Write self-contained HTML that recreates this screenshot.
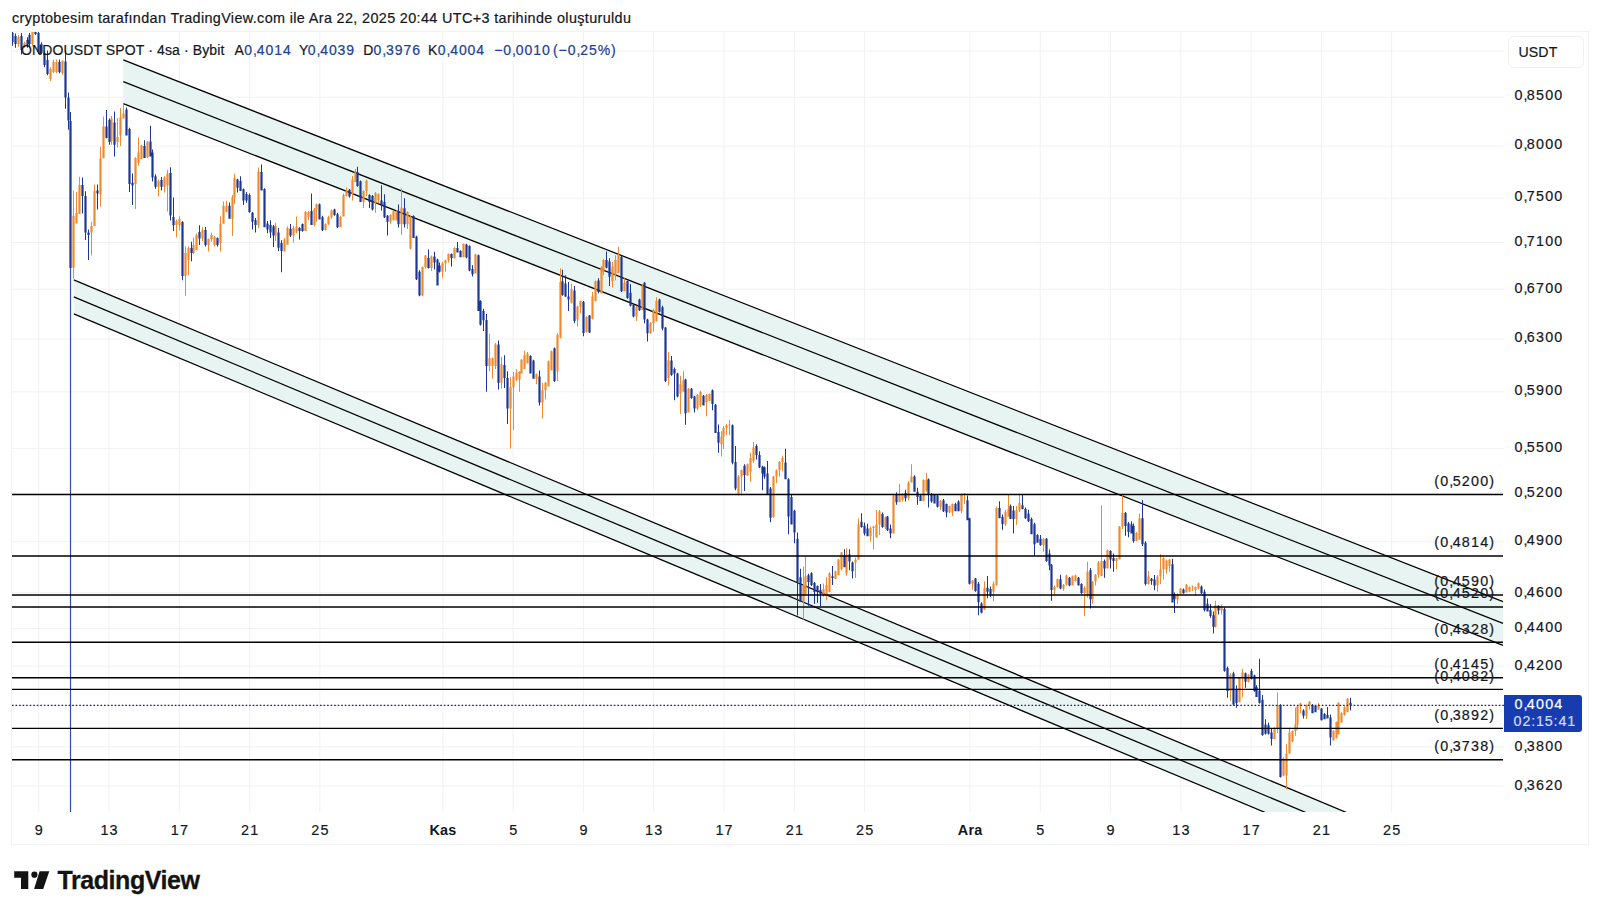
<!DOCTYPE html><html><head><meta charset="utf-8"><style>
*{margin:0;padding:0;box-sizing:border-box}
html,body{width:1600px;height:916px;background:#fff;overflow:hidden}
body{font-family:"Liberation Sans",Arial,sans-serif;color:#131722;position:relative}
.t{position:absolute;white-space:nowrap;line-height:1;-webkit-text-stroke:0.2px currentColor}
svg{position:absolute;left:0;top:0}
.cm{letter-spacing:-0.68px}
</style></head><body>

<svg width="1600" height="916" viewBox="0 0 1600 916">
<rect x="11.5" y="31.5" width="1577" height="813" fill="none" stroke="#f1f1f1" stroke-width="1"/>
<defs><clipPath id="pc"><rect x="12" y="31" width="1492" height="781"/></clipPath></defs>
<path d="M38.75 31V812 M109.03 31V812 M179.31 31V812 M249.60 31V812 M319.88 31V812 M442.87 31V812 M513.15 31V812 M583.44 31V812 M653.72 31V812 M724.00 31V812 M794.28 31V812 M864.56 31V812 M969.99 31V812 M1040.27 31V812 M1110.55 31V812 M1180.83 31V812 M1251.11 31V812 M1321.40 31V812 M1391.68 31V812 M12 97.20H1504 M12 146.12H1504 M12 198.21H1504 M12 242.44H1504 M12 289.23H1504 M12 338.91H1504 M12 391.85H1504 M12 448.50H1504 M12 493.77H1504 M12 541.72H1504 M12 592.71H1504 M12 628.58H1504 M12 666.12H1504 M12 746.89H1504 M12 786.05H1504 M12 51.07H1504 M12 705.49H1504" stroke="#f1f1f1" stroke-width="1" fill="none"/>
<g clip-path="url(#pc)"><polygon points="123.30,59.90 1503.00,601.57 1503.00,623.37 123.30,81.70" fill="#e8f4f2"/><polygon points="123.30,81.70 1503.00,623.37 1503.00,645.37 123.30,103.70" fill="#e8f4f2"/><line x1="123.3" y1="59.90" x2="1503" y2="601.57" stroke="#000" stroke-width="1.25"/><line x1="123.3" y1="81.70" x2="1503" y2="623.37" stroke="#000" stroke-width="1.25"/><line x1="123.3" y1="103.70" x2="1503" y2="645.37" stroke="#000" stroke-width="1.25"/><polygon points="73.80,279.90 1503.00,878.02 1503.00,895.02 73.80,296.90" fill="#e8f4f2"/><polygon points="73.80,296.90 1503.00,895.02 1503.00,912.02 73.80,313.90" fill="#e8f4f2"/><line x1="73.8" y1="279.90" x2="1503" y2="878.02" stroke="#000" stroke-width="1.25"/><line x1="73.8" y1="296.90" x2="1503" y2="895.02" stroke="#000" stroke-width="1.25"/><line x1="73.8" y1="313.90" x2="1503" y2="912.02" stroke="#000" stroke-width="1.25"/></g>
<g clip-path="url(#pc)"><rect x="69.90" y="268.0" width="1.2" height="544.0" fill="#2e4fae"/><path d="M18 34.9h1V46.7h-1ZM17.40 37.0h2.2V44.0h-2.2ZM24 41.8h1V47.7h-1ZM23.40 43.0h2.2V46.0h-2.2ZM32 31.9h1V46.2h-1ZM31.40 32.0h2.2V44.0h-2.2ZM50 67.3h1V81.1h-1ZM49.40 69.0h2.2V79.0h-2.2ZM53 59.5h1V73.2h-1ZM52.40 62.0h2.2V72.0h-2.2ZM56 59.5h1V73.2h-1ZM55.40 62.0h2.2V72.0h-2.2ZM62 60.3h1V74.7h-1ZM61.40 61.0h2.2V73.0h-2.2ZM73 190.5h1V278.4h-1ZM72.40 215.7h2.2V267.7h-2.2ZM76 192.0h1V223.4h-1ZM75.40 212.7h2.2V223.4h-2.2ZM79 176.7h1V214.0h-1ZM78.40 185.0h2.2V214.0h-2.2ZM91 221.8h1V255.5h-1ZM90.40 226.0h2.2V232.5h-2.2ZM94 184.4h1V226.0h-1ZM93.40 191.0h2.2V226.0h-2.2ZM100 146.8h1V206.5h-1ZM99.40 158.4h2.2V194.3h-2.2ZM103 116.6h1V158.4h-1ZM102.40 126.5h2.2V157.9h-2.2ZM111 116.0h1V144.8h-1ZM110.40 118.6h2.2V140.9h-2.2ZM117 118.0h1V147.4h-1ZM116.40 137.0h2.2V142.0h-2.2ZM120 108.1h1V146.0h-1ZM119.40 117.3h2.2V135.6h-2.2ZM123 103.5h1V118.6h-1ZM122.40 113.4h2.2V118.6h-2.2ZM135 157.2h1V209.0h-1ZM134.40 157.9h2.2V184.0h-2.2ZM138 137.6h1V165.7h-1ZM137.40 152.6h2.2V163.0h-2.2ZM141 144.8h1V159.2h-1ZM140.40 145.4h2.2V159.2h-2.2ZM147 140.9h1V158.0h-1ZM146.40 141.5h2.2V157.2h-2.2ZM158 179.5h1V196.5h-1ZM157.40 181.0h2.2V186.7h-2.2ZM164 176.2h1V192.6h-1ZM163.40 177.5h2.2V186.7h-2.2ZM167 169.7h1V211.6h-1ZM166.40 173.6h2.2V185.4h-2.2ZM176 219.6h1V237.6h-1ZM175.40 221.0h2.2V225.0h-2.2ZM179 216.3h1V230.2h-1ZM178.40 219.0h2.2V225.0h-2.2ZM185 246.6h1V295.7h-1ZM184.40 253.0h2.2V276.0h-2.2ZM188 246.6h1V275.3h-1ZM187.40 248.0h2.2V260.0h-2.2ZM193 237.6h1V254.0h-1ZM192.40 245.0h2.2V253.0h-2.2ZM196 233.5h1V250.0h-1ZM195.40 235.0h2.2V250.0h-2.2ZM202 227.0h1V240.9h-1ZM201.40 230.0h2.2V238.4h-2.2ZM208 238.4h1V251.5h-1ZM207.40 239.0h2.2V245.0h-2.2ZM211 232.7h1V241.7h-1ZM210.40 235.0h2.2V239.0h-2.2ZM214 236.0h1V246.6h-1ZM213.40 237.0h2.2V245.0h-2.2ZM220 216.3h1V251.5h-1ZM219.40 223.7h2.2V243.3h-2.2ZM223 201.6h1V223.7h-1ZM222.40 205.7h2.2V223.7h-2.2ZM226 200.8h1V212.2h-1ZM225.40 205.7h2.2V212.2h-2.2ZM232 195.0h1V236.0h-1ZM231.40 197.5h2.2V218.8h-2.2ZM234 173.7h1V204.0h-1ZM233.40 177.8h2.2V197.5h-2.2ZM258 167.6h1V228.0h-1ZM257.40 171.4h2.2V225.0h-2.2ZM275 222.6h1V241.0h-1ZM274.40 226.0h2.2V235.6h-2.2ZM284 237.9h1V251.6h-1ZM283.40 239.4h2.2V251.6h-2.2ZM287 226.4h1V244.8h-1ZM286.40 228.0h2.2V244.8h-2.2ZM293 225.7h1V242.5h-1ZM292.40 228.0h2.2V235.6h-2.2ZM296 216.5h1V233.3h-1ZM295.40 226.4h2.2V232.5h-2.2ZM305 211.1h1V231.0h-1ZM304.40 212.0h2.2V231.0h-2.2ZM308 211.1h1V220.3h-1ZM307.40 212.0h2.2V217.0h-2.2ZM314 208.0h1V226.4h-1ZM313.40 209.6h2.2V224.9h-2.2ZM316 203.5h1V221.8h-1ZM315.40 204.3h2.2V209.6h-2.2ZM325 223.4h1V230.2h-1ZM324.40 224.0h2.2V230.0h-2.2ZM328 215.7h1V224.9h-1ZM327.40 217.2h2.2V224.0h-2.2ZM331 209.6h1V218.8h-1ZM330.40 210.4h2.2V217.2h-2.2ZM340 215.7h1V227.2h-1ZM339.40 217.0h2.2V227.2h-2.2ZM343 193.6h1V216.5h-1ZM342.40 195.0h2.2V216.5h-2.2ZM346 187.4h1V196.6h-1ZM345.40 190.5h2.2V195.9h-2.2ZM352 176.0h1V200.4h-1ZM351.40 179.8h2.2V194.3h-2.2ZM355 169.1h1V182.0h-1ZM354.40 171.4h2.2V182.0h-2.2ZM363 190.5h1V208.0h-1ZM362.40 191.0h2.2V202.0h-2.2ZM366 179.8h1V195.9h-1ZM365.40 180.6h2.2V191.0h-2.2ZM375 192.0h1V212.7h-1ZM374.40 193.0h2.2V203.5h-2.2ZM378 193.6h1V203.5h-1ZM377.40 194.0h2.2V200.0h-2.2ZM390 214.2h1V224.3h-1ZM389.40 215.0h2.2V221.8h-2.2ZM393 210.4h1V220.5h-1ZM392.40 211.0h2.2V220.3h-2.2ZM396 210.6h1V220.5h-1ZM395.40 211.0h2.2V220.5h-2.2ZM401 188.4h1V235.0h-1ZM400.40 207.5h2.2V224.3h-2.2ZM407 211.3h1V228.9h-1ZM406.40 212.0h2.2V224.3h-2.2ZM410 216.0h1V249.5h-1ZM409.40 216.7h2.2V248.8h-2.2ZM422 266.4h1V296.2h-1ZM421.40 267.0h2.2V295.4h-2.2ZM425 254.9h1V268.6h-1ZM424.40 255.6h2.2V267.0h-2.2ZM431 255.6h1V271.0h-1ZM430.40 256.4h2.2V268.0h-2.2ZM442 261.8h1V277.8h-1ZM441.40 263.3h2.2V271.7h-2.2ZM445 259.5h1V271.7h-1ZM444.40 260.2h2.2V263.3h-2.2ZM448 253.4h1V262.5h-1ZM447.40 254.0h2.2V260.2h-2.2ZM454 247.2h1V258.7h-1ZM453.40 248.0h2.2V258.0h-2.2ZM463 243.4h1V257.2h-1ZM462.40 244.0h2.2V257.2h-2.2ZM475 253.7h1V273.6h-1ZM474.40 254.5h2.2V273.6h-2.2ZM489 333.8h1V371.2h-1ZM488.40 358.2h2.2V366.0h-2.2ZM492 357.6h1V378.8h-1ZM491.40 358.2h2.2V366.0h-2.2ZM495 342.9h1V369.0h-1ZM494.40 344.5h2.2V366.0h-2.2ZM501 356.7h1V388.8h-1ZM500.40 364.3h2.2V382.7h-2.2ZM510 377.3h1V448.4h-1ZM509.40 387.2h2.2V408.6h-2.2ZM513 372.0h1V430.0h-1ZM512.40 376.5h2.2V387.2h-2.2ZM516 368.9h1V381.1h-1ZM515.40 372.7h2.2V379.6h-2.2ZM519 371.2h1V391.8h-1ZM518.40 372.0h2.2V379.6h-2.2ZM521 359.0h1V373.5h-1ZM520.40 359.7h2.2V373.5h-2.2ZM524 350.6h1V369.0h-1ZM523.40 355.2h2.2V369.0h-2.2ZM527 352.0h1V363.6h-1ZM526.40 353.6h2.2V363.6h-2.2ZM536 373.5h1V384.2h-1ZM535.40 374.0h2.2V378.8h-2.2ZM542 382.7h1V418.6h-1ZM541.40 390.3h2.2V402.5h-2.2ZM545 381.9h1V399.5h-1ZM544.40 382.7h2.2V390.3h-2.2ZM548 360.5h1V386.5h-1ZM547.40 361.3h2.2V386.5h-2.2ZM551 350.6h1V370.4h-1ZM550.40 351.3h2.2V370.4h-2.2ZM557 333.2h1V381.0h-1ZM556.40 334.8h2.2V371.4h-2.2ZM560 268.3h1V338.6h-1ZM559.40 282.0h2.2V337.8h-2.2ZM571 283.6h1V303.4h-1ZM570.40 289.0h2.2V302.7h-2.2ZM577 305.7h1V326.4h-1ZM576.40 306.5h2.2V319.5h-2.2ZM580 300.4h1V313.4h-1ZM579.40 301.0h2.2V307.2h-2.2ZM586 316.4h1V332.5h-1ZM585.40 317.0h2.2V331.7h-2.2ZM592 292.0h1V319.5h-1ZM591.40 296.5h2.2V318.7h-2.2ZM595 280.5h1V301.5h-1ZM594.40 281.3h2.2V301.0h-2.2ZM601 266.0h1V293.5h-1ZM600.40 267.5h2.2V293.5h-2.2ZM603 259.0h1V275.2h-1ZM602.40 259.9h2.2V272.0h-2.2ZM612 262.0h1V287.4h-1ZM611.40 266.7h2.2V281.3h-2.2ZM615 255.3h1V280.5h-1ZM614.40 259.9h2.2V275.2h-2.2ZM618 246.9h1V272.9h-1ZM617.40 254.5h2.2V272.9h-2.2ZM624 278.2h1V291.2h-1ZM623.40 282.8h2.2V291.2h-2.2ZM636 305.7h1V321.0h-1ZM635.40 307.0h2.2V316.4h-2.2ZM642 284.3h1V310.3h-1ZM641.40 285.9h2.2V310.3h-2.2ZM650 321.8h1V334.0h-1ZM649.40 323.3h2.2V333.2h-2.2ZM653 308.8h1V331.7h-1ZM652.40 310.3h2.2V323.3h-2.2ZM656 297.3h1V321.8h-1ZM655.40 301.0h2.2V321.0h-2.2ZM668 352.0h1V385.7h-1ZM667.40 360.5h2.2V378.0h-2.2ZM680 375.8h1V414.0h-1ZM679.40 384.2h2.2V393.4h-2.2ZM683 371.2h1V391.8h-1ZM682.40 380.4h2.2V391.8h-2.2ZM688 388.0h1V412.5h-1ZM687.40 388.8h2.2V412.5h-2.2ZM697 394.1h1V410.2h-1ZM696.40 394.9h2.2V408.6h-2.2ZM700 391.0h1V407.0h-1ZM699.40 391.8h2.2V405.0h-2.2ZM706 394.1h1V416.3h-1ZM705.40 394.9h2.2V402.5h-2.2ZM709 393.4h1V401.0h-1ZM708.40 394.0h2.2V401.0h-2.2ZM721 431.3h1V456.5h-1ZM720.40 436.7h2.2V444.3h-2.2ZM723 426.0h1V449.0h-1ZM722.40 428.3h2.2V436.7h-2.2ZM726 423.7h1V435.0h-1ZM725.40 425.2h2.2V428.3h-2.2ZM729 419.9h1V435.2h-1ZM728.40 424.4h2.2V425.4h-2.2ZM738 474.9h1V495.5h-1ZM737.40 476.4h2.2V494.8h-2.2ZM741 469.5h1V495.5h-1ZM740.40 470.0h2.2V476.4h-2.2ZM747 463.4h1V475.7h-1ZM746.40 464.2h2.2V475.7h-2.2ZM750 452.7h1V481.8h-1ZM749.40 458.0h2.2V471.8h-2.2ZM753 442.0h1V462.7h-1ZM752.40 447.4h2.2V461.1h-2.2ZM773 475.7h1V517.7h-1ZM772.40 476.4h2.2V517.0h-2.2ZM776 469.5h1V483.3h-1ZM775.40 470.3h2.2V476.4h-2.2ZM779 461.1h1V476.4h-1ZM778.40 461.9h2.2V470.3h-2.2ZM782 455.7h1V471.4h-1ZM781.40 457.7h2.2V461.9h-2.2ZM803 566.4h1V619.4h-1ZM802.40 585.0h2.2V601.7h-2.2ZM805 556.0h1V594.8h-1ZM804.40 576.2h2.2V593.9h-2.2ZM823 583.5h1V596.8h-1ZM822.40 589.0h2.2V594.8h-2.2ZM826 577.2h1V600.2h-1ZM825.40 585.0h2.2V594.8h-2.2ZM829 572.2h1V591.9h-1ZM828.40 573.2h2.2V591.9h-2.2ZM835 570.8h1V579.1h-1ZM834.40 571.3h2.2V579.1h-2.2ZM838 559.0h1V575.2h-1ZM837.40 559.5h2.2V575.2h-2.2ZM841 552.1h1V570.3h-1ZM840.40 552.6h2.2V569.3h-2.2ZM846 548.2h1V575.7h-1ZM845.40 555.5h2.2V573.2h-2.2ZM855 557.5h1V578.1h-1ZM854.40 559.8h2.2V562.4h-2.2ZM858 518.5h1V559.8h-1ZM857.40 524.4h2.2V559.8h-2.2ZM870 526.4h1V541.5h-1ZM869.40 528.0h2.2V536.2h-2.2ZM873 525.7h1V549.3h-1ZM872.40 526.4h2.2V528.0h-2.2ZM876 510.0h1V537.5h-1ZM875.40 524.4h2.2V537.5h-2.2ZM879 510.0h1V534.9h-1ZM878.40 511.3h2.2V524.4h-2.2ZM885 516.6h1V529.0h-1ZM884.40 517.2h2.2V527.0h-2.2ZM893 494.3h1V533.6h-1ZM892.40 495.6h2.2V533.6h-2.2ZM899 483.8h1V502.2h-1ZM898.40 495.0h2.2V502.2h-2.2ZM902 493.0h1V501.5h-1ZM901.40 494.0h2.2V500.0h-2.2ZM908 481.2h1V500.2h-1ZM907.40 482.5h2.2V498.2h-2.2ZM911 464.2h1V482.5h-1ZM910.40 476.6h2.2V482.5h-2.2ZM923 479.2h1V501.5h-1ZM922.40 480.0h2.2V500.9h-2.2ZM926 472.7h1V491.7h-1ZM925.40 480.0h2.2V490.4h-2.2ZM940 500.2h1V510.0h-1ZM939.40 500.9h2.2V506.7h-2.2ZM949 505.4h1V513.3h-1ZM948.40 506.0h2.2V512.6h-2.2ZM952 503.5h1V516.0h-1ZM951.40 504.0h2.2V512.6h-2.2ZM961 493.6h1V513.3h-1ZM960.40 494.3h2.2V511.3h-2.2ZM964 493.0h1V504.1h-1ZM963.40 493.5h2.2V494.5h-2.2ZM972 580.0h1V589.7h-1ZM971.40 580.6h2.2V583.8h-2.2ZM984 581.2h1V610.0h-1ZM983.40 587.8h2.2V609.4h-2.2ZM993 581.2h1V601.5h-1ZM992.40 583.8h2.2V591.7h-2.2ZM996 506.6h1V585.8h-1ZM995.40 507.9h2.2V585.2h-2.2ZM1005 509.8h1V525.9h-1ZM1004.40 512.0h2.2V524.3h-2.2ZM1008 494.5h1V516.7h-1ZM1007.40 509.0h2.2V516.7h-2.2ZM1016 505.9h1V525.0h-1ZM1015.40 510.6h2.2V519.0h-2.2ZM1019 493.8h1V512.0h-1ZM1018.40 503.0h2.2V510.6h-2.2ZM1043 538.0h1V551.8h-1ZM1042.40 538.8h2.2V545.0h-2.2ZM1054 585.5h1V593.9h-1ZM1053.40 587.0h2.2V590.0h-2.2ZM1057 578.6h1V587.7h-1ZM1056.40 579.3h2.2V587.0h-2.2ZM1063 584.0h1V590.8h-1ZM1062.40 584.7h2.2V588.5h-2.2ZM1066 574.8h1V585.5h-1ZM1065.40 575.5h2.2V584.7h-2.2ZM1072 575.5h1V585.5h-1ZM1071.40 576.3h2.2V585.5h-2.2ZM1075 574.8h1V581.6h-1ZM1074.40 575.5h2.2V581.0h-2.2ZM1084 586.2h1V616.0h-1ZM1083.40 588.0h2.2V593.0h-2.2ZM1087 561.8h1V597.7h-1ZM1086.40 571.7h2.2V596.2h-2.2ZM1092 580.9h1V603.8h-1ZM1091.40 581.6h2.2V599.2h-2.2ZM1095 574.0h1V585.5h-1ZM1094.40 574.8h2.2V581.6h-2.2ZM1098 561.0h1V577.8h-1ZM1097.40 562.5h2.2V574.8h-2.2ZM1101 505.2h1V576.3h-1ZM1100.40 561.0h2.2V576.3h-2.2ZM1107 549.5h1V568.6h-1ZM1106.40 550.3h2.2V568.6h-2.2ZM1116 558.0h1V569.4h-1ZM1115.40 558.5h2.2V561.0h-2.2ZM1119 525.9h1V559.5h-1ZM1118.40 526.6h2.2V559.5h-2.2ZM1122 493.8h1V529.0h-1ZM1121.40 512.9h2.2V526.6h-2.2ZM1136 532.0h1V541.3h-1ZM1135.40 532.9h2.2V541.1h-2.2ZM1139 513.8h1V539.7h-1ZM1138.40 518.3h2.2V539.7h-2.2ZM1148 571.0h1V584.8h-1ZM1147.40 576.4h2.2V584.0h-2.2ZM1157 574.9h1V591.7h-1ZM1156.40 576.4h2.2V585.6h-2.2ZM1160 554.3h1V584.0h-1ZM1159.40 569.5h2.2V576.4h-2.2ZM1163 557.3h1V579.5h-1ZM1162.40 558.0h2.2V569.5h-2.2ZM1166 559.6h1V574.1h-1ZM1165.40 560.4h2.2V569.5h-2.2ZM1169 558.8h1V571.8h-1ZM1168.40 559.6h2.2V566.0h-2.2ZM1177 593.2h1V604.0h-1ZM1176.40 594.0h2.2V599.3h-2.2ZM1180 587.9h1V594.5h-1ZM1179.40 588.6h2.2V594.0h-2.2ZM1186 584.0h1V592.5h-1ZM1185.40 584.8h2.2V592.5h-2.2ZM1189 586.4h1V591.7h-1ZM1188.40 587.1h2.2V591.7h-2.2ZM1192 585.6h1V591.0h-1ZM1191.40 586.2h2.2V587.2h-2.2ZM1195 586.4h1V595.5h-1ZM1194.40 587.0h2.2V590.0h-2.2ZM1198 582.5h1V589.4h-1ZM1197.40 583.3h2.2V588.6h-2.2ZM1215 600.7h1V627.4h-1ZM1214.40 605.3h2.2V626.7h-2.2ZM1221 604.5h1V614.5h-1ZM1220.40 606.8h2.2V610.5h-2.2ZM1230 673.3h1V700.8h-1ZM1229.40 675.0h2.2V690.9h-2.2ZM1239 677.1h1V702.3h-1ZM1238.40 677.9h2.2V702.3h-2.2ZM1242 668.7h1V697.0h-1ZM1241.40 672.5h2.2V677.9h-2.2ZM1248 674.0h1V682.5h-1ZM1247.40 674.8h2.2V681.7h-2.2ZM1274 727.2h1V739.6h-1ZM1273.40 729.0h2.2V739.0h-2.2ZM1277 692.4h1V733.0h-1ZM1276.40 704.9h2.2V729.0h-2.2ZM1283 757.3h1V776.3h-1ZM1282.40 758.6h2.2V775.6h-2.2ZM1286 744.2h1V789.4h-1ZM1285.40 753.4h2.2V775.6h-2.2ZM1289 727.8h1V754.0h-1ZM1288.40 732.4h2.2V753.4h-2.2ZM1292 730.4h1V742.2h-1ZM1291.40 731.0h2.2V741.6h-2.2ZM1295 707.5h1V735.7h-1ZM1294.40 724.5h2.2V731.0h-2.2ZM1297 705.5h1V729.8h-1ZM1296.40 706.2h2.2V724.5h-2.2ZM1300 702.7h1V713.2h-1ZM1299.40 703.6h2.2V706.2h-2.2ZM1306 704.5h1V718.9h-1ZM1305.40 705.0h2.2V715.8h-2.2ZM1309 701.0h1V709.7h-1ZM1308.40 701.8h2.2V705.0h-2.2ZM1318 703.1h1V709.7h-1ZM1317.40 705.3h2.2V709.7h-2.2ZM1333 730.2h1V740.7h-1ZM1332.40 730.7h2.2V740.3h-2.2ZM1336 721.5h1V738.5h-1ZM1335.40 722.0h2.2V738.0h-2.2ZM1338 702.3h1V734.6h-1ZM1337.40 702.7h2.2V734.1h-2.2ZM1341 712.3h1V722.8h-1ZM1340.40 713.2h2.2V722.8h-2.2ZM1344 706.2h1V715.8h-1ZM1343.40 707.1h2.2V715.0h-2.2ZM1347 697.9h1V712.3h-1ZM1346.40 698.8h2.2V712.3h-2.2Z" fill="#ef8b2e"/><path d="M12 31.9h1V45.7h-1ZM11.40 33.0h2.2V42.0h-2.2ZM15 33.4h1V47.7h-1ZM14.40 36.0h2.2V44.0h-2.2ZM21 32.9h1V54.5h-1ZM20.40 36.0h2.2V50.0h-2.2ZM27 37.3h1V47.7h-1ZM26.40 40.0h2.2V46.0h-2.2ZM29 32.9h1V46.2h-1ZM28.40 35.0h2.2V44.0h-2.2ZM35 31.9h1V34.9h-1ZM34.40 32.0h2.2V34.0h-2.2ZM38 31.9h1V54.1h-1ZM37.40 33.0h2.2V52.0h-2.2ZM41 42.3h1V54.1h-1ZM40.40 44.0h2.2V53.0h-2.2ZM44 51.6h1V67.3h-1ZM43.40 53.0h2.2V65.0h-2.2ZM47 50.6h1V75.2h-1ZM46.40 60.0h2.2V74.0h-2.2ZM59 59.5h1V73.2h-1ZM58.40 62.0h2.2V72.0h-2.2ZM65 49.8h1V108.8h-1ZM64.40 61.6h2.2V97.6h-2.2ZM68 92.4h1V129.7h-1ZM67.40 97.6h2.2V120.6h-2.2ZM70 112.0h1V268.0h-1ZM69.40 121.0h2.2V268.0h-2.2ZM82 177.5h1V213.4h-1ZM81.40 185.0h2.2V196.0h-2.2ZM85 191.3h1V240.0h-1ZM84.40 196.0h2.2V232.5h-2.2ZM88 229.5h1V260.0h-1ZM87.40 232.5h2.2V235.0h-2.2ZM97 184.4h1V209.6h-1ZM96.40 190.5h2.2V193.6h-2.2ZM106 110.0h1V138.3h-1ZM105.40 126.5h2.2V138.0h-2.2ZM109 118.6h1V144.8h-1ZM108.40 120.0h2.2V142.0h-2.2ZM114 111.4h1V156.6h-1ZM113.40 122.5h2.2V144.8h-2.2ZM126 107.4h1V135.6h-1ZM125.40 109.4h2.2V135.6h-2.2ZM129 127.8h1V192.0h-1ZM128.40 129.0h2.2V184.0h-2.2ZM132 173.6h1V205.0h-1ZM131.40 182.8h2.2V185.4h-2.2ZM144 140.2h1V158.0h-1ZM143.40 146.0h2.2V158.0h-2.2ZM150 125.8h1V156.6h-1ZM149.40 141.5h2.2V156.6h-2.2ZM152 149.4h1V181.5h-1ZM151.40 152.6h2.2V177.5h-2.2ZM155 174.3h1V188.7h-1ZM154.40 176.2h2.2V186.7h-2.2ZM161 176.9h1V190.6h-1ZM160.40 180.0h2.2V186.7h-2.2ZM170 167.2h1V220.4h-1ZM169.40 173.0h2.2V215.5h-2.2ZM173 197.5h1V231.0h-1ZM172.40 217.0h2.2V225.3h-2.2ZM182 221.2h1V280.2h-1ZM181.40 222.0h2.2V276.0h-2.2ZM191 241.7h1V261.3h-1ZM190.40 248.0h2.2V253.0h-2.2ZM199 225.3h1V245.0h-1ZM198.40 232.0h2.2V238.4h-2.2ZM205 227.0h1V246.6h-1ZM204.40 230.0h2.2V245.0h-2.2ZM217 237.6h1V246.6h-1ZM216.40 238.0h2.2V245.0h-2.2ZM229 202.4h1V218.8h-1ZM228.40 205.7h2.2V218.8h-2.2ZM237 178.7h1V192.6h-1ZM236.40 179.5h2.2V187.7h-2.2ZM240 176.2h1V191.0h-1ZM239.40 181.0h2.2V191.0h-2.2ZM243 188.5h1V205.0h-1ZM242.40 189.3h2.2V200.4h-2.2ZM246 192.0h1V202.7h-1ZM245.40 194.0h2.2V200.4h-2.2ZM249 193.6h1V212.7h-1ZM248.40 195.0h2.2V212.0h-2.2ZM252 212.0h1V229.5h-1ZM251.40 212.7h2.2V221.8h-2.2ZM255 218.0h1V232.5h-1ZM254.40 220.3h2.2V225.0h-2.2ZM261 164.5h1V190.5h-1ZM260.40 172.0h2.2V190.5h-2.2ZM264 188.2h1V227.2h-1ZM263.40 189.0h2.2V227.2h-2.2ZM267 221.0h1V233.3h-1ZM266.40 223.4h2.2V229.5h-2.2ZM270 220.3h1V237.9h-1ZM269.40 225.0h2.2V232.5h-2.2ZM273 224.9h1V247.0h-1ZM272.40 226.4h2.2V235.6h-2.2ZM278 228.0h1V250.9h-1ZM277.40 232.5h2.2V247.8h-2.2ZM281 240.2h1V272.3h-1ZM280.40 243.0h2.2V250.9h-2.2ZM290 224.0h1V237.1h-1ZM289.40 228.7h2.2V235.6h-2.2ZM299 227.2h1V239.4h-1ZM298.40 228.0h2.2V231.0h-2.2ZM302 223.4h1V231.8h-1ZM301.40 224.0h2.2V231.0h-2.2ZM311 193.6h1V224.9h-1ZM310.40 211.0h2.2V224.9h-2.2ZM319 203.5h1V219.5h-1ZM318.40 204.3h2.2V219.5h-2.2ZM322 215.7h1V231.0h-1ZM321.40 217.2h2.2V230.2h-2.2ZM334 208.8h1V215.7h-1ZM333.40 209.6h2.2V215.0h-2.2ZM337 212.7h1V228.0h-1ZM336.40 214.2h2.2V227.2h-2.2ZM349 189.0h1V197.4h-1ZM348.40 189.7h2.2V196.6h-2.2ZM357 166.8h1V186.7h-1ZM356.40 172.0h2.2V186.0h-2.2ZM360 180.6h1V202.0h-1ZM359.40 181.3h2.2V202.0h-2.2ZM369 194.3h1V208.0h-1ZM368.40 195.0h2.2V202.0h-2.2ZM372 195.0h1V210.4h-1ZM371.40 195.9h2.2V209.6h-2.2ZM381 185.2h1V210.4h-1ZM380.40 200.4h2.2V205.0h-2.2ZM384 194.3h1V218.0h-1ZM383.40 202.0h2.2V217.2h-2.2ZM387 215.0h1V235.6h-1ZM386.40 215.7h2.2V221.8h-2.2ZM398 204.5h1V227.4h-1ZM397.40 211.3h2.2V224.3h-2.2ZM404 198.3h1V227.4h-1ZM403.40 208.3h2.2V224.3h-2.2ZM413 215.2h1V238.0h-1ZM412.40 216.0h2.2V238.0h-2.2ZM416 235.8h1V280.1h-1ZM415.40 236.5h2.2V279.3h-2.2ZM419 270.2h1V296.2h-1ZM418.40 271.7h2.2V295.4h-2.2ZM428 249.5h1V268.6h-1ZM427.40 258.0h2.2V268.0h-2.2ZM434 251.8h1V269.4h-1ZM433.40 256.4h2.2V262.5h-2.2ZM437 258.7h1V285.5h-1ZM436.40 259.5h2.2V285.5h-2.2ZM439 262.5h1V272.5h-1ZM438.40 265.6h2.2V271.7h-2.2ZM451 253.4h1V266.4h-1ZM450.40 254.0h2.2V258.0h-2.2ZM457 241.9h1V252.6h-1ZM456.40 248.0h2.2V252.6h-2.2ZM460 250.3h1V257.2h-1ZM459.40 251.0h2.2V257.2h-2.2ZM466 243.8h1V258.3h-1ZM465.40 244.5h2.2V257.5h-2.2ZM469 245.3h1V271.3h-1ZM468.40 246.0h2.2V270.5h-2.2ZM472 265.2h1V276.6h-1ZM471.40 269.0h2.2V274.3h-2.2ZM478 254.5h1V311.0h-1ZM477.40 255.2h2.2V311.0h-2.2ZM480 300.3h1V325.5h-1ZM479.40 301.0h2.2V324.8h-2.2ZM483 308.7h1V330.9h-1ZM482.40 311.0h2.2V320.2h-2.2ZM486 314.0h1V391.8h-1ZM485.40 320.0h2.2V365.9h-2.2ZM498 340.6h1V389.5h-1ZM497.40 344.5h2.2V382.7h-2.2ZM504 355.2h1V388.0h-1ZM503.40 365.0h2.2V378.0h-2.2ZM507 371.2h1V424.0h-1ZM506.40 378.0h2.2V408.6h-2.2ZM530 355.2h1V373.5h-1ZM529.40 356.0h2.2V373.5h-2.2ZM533 359.7h1V378.8h-1ZM532.40 360.5h2.2V378.8h-2.2ZM539 370.4h1V405.6h-1ZM538.40 376.5h2.2V402.5h-2.2ZM554 347.5h1V381.9h-1ZM553.40 348.3h2.2V381.0h-2.2ZM562 269.8h1V295.8h-1ZM561.40 281.3h2.2V295.0h-2.2ZM565 275.2h1V297.0h-1ZM564.40 283.6h2.2V296.5h-2.2ZM568 282.0h1V311.0h-1ZM567.40 296.5h2.2V299.6h-2.2ZM574 285.9h1V323.3h-1ZM573.40 290.4h2.2V321.0h-2.2ZM583 301.0h1V336.3h-1ZM582.40 302.0h2.2V333.0h-2.2ZM589 314.9h1V333.0h-1ZM588.40 315.6h2.2V332.5h-2.2ZM598 278.2h1V293.5h-1ZM597.40 280.5h2.2V292.0h-2.2ZM606 251.5h1V268.3h-1ZM605.40 259.9h2.2V267.5h-2.2ZM609 258.3h1V285.9h-1ZM608.40 261.4h2.2V276.7h-2.2ZM621 256.0h1V292.0h-1ZM620.40 256.8h2.2V291.2h-2.2ZM627 280.5h1V298.8h-1ZM626.40 281.3h2.2V298.0h-2.2ZM630 284.3h1V306.5h-1ZM629.40 292.7h2.2V305.7h-2.2ZM633 304.2h1V317.2h-1ZM632.40 305.0h2.2V316.4h-2.2ZM639 298.8h1V311.0h-1ZM638.40 299.6h2.2V310.3h-2.2ZM644 282.0h1V323.3h-1ZM643.40 282.8h2.2V319.5h-2.2ZM647 318.7h1V341.6h-1ZM646.40 319.5h2.2V333.2h-2.2ZM659 298.8h1V312.6h-1ZM658.40 299.6h2.2V311.8h-2.2ZM662 305.7h1V330.2h-1ZM661.40 307.2h2.2V328.6h-2.2ZM665 327.0h1V381.9h-1ZM664.40 327.6h2.2V381.1h-2.2ZM671 356.0h1V375.8h-1ZM670.40 360.5h2.2V375.0h-2.2ZM674 367.4h1V400.2h-1ZM673.40 369.0h2.2V373.5h-2.2ZM677 372.7h1V397.2h-1ZM676.40 373.5h2.2V396.4h-2.2ZM685 378.8h1V424.7h-1ZM684.40 379.6h2.2V413.2h-2.2ZM691 388.0h1V398.7h-1ZM690.40 388.8h2.2V398.0h-2.2ZM694 395.7h1V412.5h-1ZM693.40 396.4h2.2V408.6h-2.2ZM703 394.9h1V405.6h-1ZM702.40 395.7h2.2V405.6h-2.2ZM712 389.5h1V410.2h-1ZM711.40 390.3h2.2V404.0h-2.2ZM715 404.0h1V433.1h-1ZM714.40 404.8h2.2V433.1h-2.2ZM718 424.5h1V452.7h-1ZM717.40 432.0h2.2V442.8h-2.2ZM732 424.5h1V464.2h-1ZM731.40 425.2h2.2V462.7h-2.2ZM735 445.9h1V490.2h-1ZM734.40 461.9h2.2V488.6h-2.2ZM744 464.2h1V491.0h-1ZM743.40 465.7h2.2V474.9h-2.2ZM756 444.3h1V459.6h-1ZM755.40 445.9h2.2V455.0h-2.2ZM759 451.2h1V468.0h-1ZM758.40 455.0h2.2V467.2h-2.2ZM762 465.7h1V490.2h-1ZM761.40 466.5h2.2V473.4h-2.2ZM764 466.5h1V478.7h-1ZM763.40 467.2h2.2V476.4h-2.2ZM767 461.1h1V494.8h-1ZM766.40 473.4h2.2V494.8h-2.2ZM770 487.1h1V522.3h-1ZM769.40 488.6h2.2V517.7h-2.2ZM785 448.8h1V479.3h-1ZM784.40 462.6h2.2V479.3h-2.2ZM788 478.3h1V534.3h-1ZM787.40 479.3h2.2V516.6h-2.2ZM791 495.0h1V524.5h-1ZM790.40 497.0h2.2V524.5h-2.2ZM794 509.8h1V543.3h-1ZM793.40 510.7h2.2V532.4h-2.2ZM797 532.4h1V615.5h-1ZM796.40 538.8h2.2V582.0h-2.2ZM800 568.8h1V601.7h-1ZM799.40 577.2h2.2V601.7h-2.2ZM808 573.7h1V605.7h-1ZM807.40 575.2h2.2V582.0h-2.2ZM811 572.2h1V586.0h-1ZM810.40 573.2h2.2V585.0h-2.2ZM814 582.0h1V603.7h-1ZM813.40 583.0h2.2V591.9h-2.2ZM817 585.5h1V602.7h-1ZM816.40 586.0h2.2V592.0h-2.2ZM820 584.0h1V606.1h-1ZM819.40 590.0h2.2V593.9h-2.2ZM832 565.9h1V585.0h-1ZM831.40 576.2h2.2V578.1h-2.2ZM844 549.2h1V567.3h-1ZM843.40 555.5h2.2V567.3h-2.2ZM849 549.2h1V570.3h-1ZM848.40 554.6h2.2V561.4h-2.2ZM852 561.4h1V578.6h-1ZM851.40 562.4h2.2V571.3h-2.2ZM861 513.3h1V527.7h-1ZM860.40 521.8h2.2V527.0h-2.2ZM864 522.5h1V535.6h-1ZM863.40 525.7h2.2V533.6h-2.2ZM867 523.8h1V536.2h-1ZM866.40 528.4h2.2V536.2h-2.2ZM882 512.6h1V527.7h-1ZM881.40 514.0h2.2V527.0h-2.2ZM887 516.0h1V531.0h-1ZM886.40 516.6h2.2V530.3h-2.2ZM890 524.4h1V538.2h-1ZM889.40 528.4h2.2V533.6h-2.2ZM896 492.3h1V504.8h-1ZM895.40 494.3h2.2V502.2h-2.2ZM905 489.7h1V501.5h-1ZM904.40 493.0h2.2V498.2h-2.2ZM914 475.3h1V491.7h-1ZM913.40 476.6h2.2V491.7h-2.2ZM917 487.8h1V504.8h-1ZM916.40 491.7h2.2V497.0h-2.2ZM920 494.3h1V500.9h-1ZM919.40 495.6h2.2V500.9h-2.2ZM928 478.6h1V507.4h-1ZM927.40 479.2h2.2V494.3h-2.2ZM931 493.0h1V502.8h-1ZM930.40 494.3h2.2V501.5h-2.2ZM934 494.3h1V503.5h-1ZM933.40 495.0h2.2V503.5h-2.2ZM937 495.0h1V507.4h-1ZM936.40 495.6h2.2V506.7h-2.2ZM943 498.9h1V512.0h-1ZM942.40 500.2h2.2V511.3h-2.2ZM946 503.5h1V517.2h-1ZM945.40 504.0h2.2V512.6h-2.2ZM955 502.8h1V511.3h-1ZM954.40 504.0h2.2V511.3h-2.2ZM958 500.2h1V511.3h-1ZM957.40 501.5h2.2V511.3h-2.2ZM967 495.6h1V520.3h-1ZM966.40 500.2h2.2V520.3h-2.2ZM969 517.7h1V584.5h-1ZM968.40 518.3h2.2V583.8h-2.2ZM975 578.0h1V591.7h-1ZM974.40 578.6h2.2V591.0h-2.2ZM978 581.9h1V615.3h-1ZM977.40 583.8h2.2V602.2h-2.2ZM981 602.2h1V613.3h-1ZM980.40 603.5h2.2V612.7h-2.2ZM987 576.0h1V598.3h-1ZM986.40 587.8h2.2V591.7h-2.2ZM990 586.5h1V597.0h-1ZM989.40 589.0h2.2V594.3h-2.2ZM999 501.3h1V518.3h-1ZM998.40 507.9h2.2V518.2h-2.2ZM1002 514.4h1V529.7h-1ZM1001.40 516.7h2.2V524.3h-2.2ZM1010 504.5h1V519.0h-1ZM1009.40 506.0h2.2V519.0h-2.2ZM1013 505.9h1V533.5h-1ZM1012.40 510.6h2.2V519.0h-2.2ZM1022 494.5h1V509.2h-1ZM1021.40 505.2h2.2V509.0h-2.2ZM1025 507.5h1V519.0h-1ZM1024.40 509.0h2.2V518.2h-2.2ZM1028 509.8h1V522.0h-1ZM1027.40 513.6h2.2V521.3h-2.2ZM1031 517.4h1V534.3h-1ZM1030.40 519.0h2.2V534.3h-2.2ZM1034 522.8h1V555.7h-1ZM1033.40 524.3h2.2V544.2h-2.2ZM1037 534.3h1V542.7h-1ZM1036.40 535.0h2.2V542.7h-2.2ZM1040 535.0h1V545.7h-1ZM1039.40 538.8h2.2V545.0h-2.2ZM1046 538.0h1V561.8h-1ZM1045.40 538.8h2.2V561.0h-2.2ZM1049 549.5h1V570.2h-1ZM1048.40 553.4h2.2V565.6h-2.2ZM1051 564.0h1V600.7h-1ZM1050.40 564.8h2.2V590.0h-2.2ZM1060 574.8h1V589.3h-1ZM1059.40 579.3h2.2V588.5h-2.2ZM1069 577.0h1V586.2h-1ZM1068.40 577.8h2.2V585.5h-2.2ZM1078 577.0h1V585.5h-1ZM1077.40 577.8h2.2V585.5h-2.2ZM1081 583.2h1V593.9h-1ZM1080.40 584.0h2.2V593.0h-2.2ZM1090 567.9h1V608.4h-1ZM1089.40 570.2h2.2V599.2h-2.2ZM1104 559.5h1V577.8h-1ZM1103.40 561.0h2.2V568.6h-2.2ZM1110 550.3h1V568.6h-1ZM1109.40 551.0h2.2V559.5h-2.2ZM1113 553.4h1V571.7h-1ZM1112.40 558.0h2.2V561.0h-2.2ZM1125 512.0h1V535.8h-1ZM1124.40 512.9h2.2V525.9h-2.2ZM1128 522.0h1V537.3h-1ZM1127.40 523.6h2.2V532.0h-2.2ZM1131 521.3h1V533.5h-1ZM1130.40 524.3h2.2V533.5h-2.2ZM1133 523.6h1V542.7h-1ZM1132.40 525.9h2.2V541.1h-2.2ZM1142 499.9h1V545.9h-1ZM1141.40 518.3h2.2V544.3h-2.2ZM1145 541.3h1V585.6h-1ZM1144.40 542.8h2.2V584.0h-2.2ZM1151 578.0h1V584.8h-1ZM1150.40 578.7h2.2V581.0h-2.2ZM1154 574.9h1V590.2h-1ZM1153.40 579.5h2.2V585.6h-2.2ZM1172 558.8h1V602.4h-1ZM1171.40 564.2h2.2V602.4h-2.2ZM1174 592.5h1V613.1h-1ZM1173.40 594.0h2.2V599.3h-2.2ZM1183 588.6h1V593.8h-1ZM1182.40 589.4h2.2V593.2h-2.2ZM1201 585.6h1V594.0h-1ZM1200.40 586.4h2.2V593.2h-2.2ZM1204 589.4h1V611.6h-1ZM1203.40 591.7h2.2V610.0h-2.2ZM1207 598.6h1V611.4h-1ZM1206.40 603.8h2.2V611.4h-2.2ZM1210 604.0h1V617.7h-1ZM1209.40 609.9h2.2V616.0h-2.2ZM1213 611.4h1V633.6h-1ZM1212.40 615.2h2.2V626.7h-2.2ZM1218 605.3h1V614.5h-1ZM1217.40 605.8h2.2V610.5h-2.2ZM1224 607.6h1V671.8h-1ZM1223.40 609.1h2.2V671.0h-2.2ZM1227 666.4h1V697.7h-1ZM1226.40 668.0h2.2V690.9h-2.2ZM1233 671.8h1V705.4h-1ZM1232.40 673.3h2.2V704.6h-2.2ZM1236 685.5h1V707.7h-1ZM1235.40 689.3h2.2V703.0h-2.2ZM1245 672.5h1V687.8h-1ZM1244.40 673.3h2.2V681.7h-2.2ZM1251 668.7h1V679.4h-1ZM1250.40 671.0h2.2V678.6h-2.2ZM1254 674.8h1V691.7h-1ZM1253.40 675.6h2.2V690.9h-2.2ZM1256 685.2h1V697.0h-1ZM1255.40 687.2h2.2V697.0h-2.2ZM1259 658.8h1V703.6h-1ZM1258.40 690.5h2.2V703.0h-2.2ZM1262 695.0h1V735.7h-1ZM1261.40 699.7h2.2V735.0h-2.2ZM1265 719.3h1V734.4h-1ZM1264.40 724.5h2.2V733.7h-2.2ZM1268 722.6h1V734.4h-1ZM1267.40 725.2h2.2V733.7h-2.2ZM1271 729.0h1V745.5h-1ZM1270.40 732.4h2.2V739.0h-2.2ZM1280 704.2h1V777.6h-1ZM1279.40 705.0h2.2V777.0h-2.2ZM1303 709.3h1V718.4h-1ZM1302.40 710.6h2.2V715.8h-2.2ZM1312 704.0h1V713.2h-1ZM1311.40 704.9h2.2V713.2h-2.2ZM1315 704.9h1V712.3h-1ZM1314.40 705.8h2.2V712.3h-2.2ZM1321 708.0h1V720.6h-1ZM1320.40 708.4h2.2V720.2h-2.2ZM1324 713.2h1V719.3h-1ZM1323.40 714.0h2.2V719.3h-2.2ZM1327 707.1h1V718.4h-1ZM1326.40 715.0h2.2V718.4h-2.2ZM1330 714.5h1V745.5h-1ZM1329.40 717.6h2.2V737.6h-2.2ZM1350 697.7h1V710.4h-1ZM1349.40 702.7h2.2V705.3h-2.2Z" fill="#1a3696"/></g>
<line x1="12" y1="494.45" x2="1503" y2="494.45" stroke="#000" stroke-width="1.4"/><line x1="12" y1="556.0" x2="1503" y2="556.0" stroke="#000" stroke-width="1.4"/><line x1="12" y1="595.0" x2="1503" y2="595.0" stroke="#000" stroke-width="1.4"/><line x1="12" y1="607.0" x2="1503" y2="607.0" stroke="#000" stroke-width="1.4"/><line x1="12" y1="642.2" x2="1503" y2="642.2" stroke="#000" stroke-width="1.4"/><line x1="12" y1="677.7" x2="1503" y2="677.7" stroke="#000" stroke-width="1.4"/><line x1="12" y1="689.4" x2="1503" y2="689.4" stroke="#000" stroke-width="1.4"/><line x1="12" y1="728.4" x2="1503" y2="728.4" stroke="#000" stroke-width="1.4"/><line x1="12" y1="759.8" x2="1503" y2="759.8" stroke="#000" stroke-width="1.4"/><line x1="12" y1="705.3" x2="1504" y2="705.3" stroke="#1c2466" stroke-width="1.3" stroke-dasharray="1.6 1.94"/>
</svg>
<div class="t" style="left:12px;top:10.6px;font-size:14.4px;letter-spacing:0.36px">cryptobesim tarafından TradingView.com ile Ara 22, 2025 20:44 UTC+3 tarihinde oluşturuldu</div>
<div class="t" style="left:21px;top:42.5px;font-size:14px;letter-spacing:0.12px">ONDOUSDT SPOT · 4sa · Bybit</div>
<div class="t" style="left:234.4px;top:42.5px;font-size:14px">A</div>
<div class="t" style="left:244.3px;top:42.5px;font-size:14px;letter-spacing:0.95px;color:#223f96">0<span style="letter-spacing:-0.2px">,</span>4014</div>
<div class="t" style="left:299.0px;top:42.5px;font-size:14px">Y</div>
<div class="t" style="left:307.7px;top:42.5px;font-size:14px;letter-spacing:0.95px;color:#223f96">0<span style="letter-spacing:-0.2px">,</span>4039</div>
<div class="t" style="left:363.20000000000005px;top:42.5px;font-size:14px">D</div>
<div class="t" style="left:373.6px;top:42.5px;font-size:14px;letter-spacing:0.95px;color:#223f96">0<span style="letter-spacing:-0.2px">,</span>3976</div>
<div class="t" style="left:428.0px;top:42.5px;font-size:14px">K</div>
<div class="t" style="left:437.7px;top:42.5px;font-size:14px;letter-spacing:0.95px;color:#223f96">0<span style="letter-spacing:-0.2px">,</span>4004</div>
<div class="t" style="left:494.2px;top:42.5px;font-size:14px;letter-spacing:0.95px;color:#223f96">−0<span style="letter-spacing:-0.2px">,</span>0010</div>
<div class="t" style="left:553.0px;top:42.5px;font-size:14px;letter-spacing:0.95px;color:#223f96">(−0<span style="letter-spacing:-0.2px">,</span>25%)</div>
<div class="t" style="left:1514.4px;top:88.3px;font-size:14.3px;letter-spacing:1.22px">0<span class="cm">,</span>8500</div>
<div class="t" style="left:1514.4px;top:137.3px;font-size:14.3px;letter-spacing:1.22px">0<span class="cm">,</span>8000</div>
<div class="t" style="left:1514.4px;top:189.4px;font-size:14.3px;letter-spacing:1.22px">0<span class="cm">,</span>7500</div>
<div class="t" style="left:1514.4px;top:233.7px;font-size:14.3px;letter-spacing:1.22px">0<span class="cm">,</span>7100</div>
<div class="t" style="left:1514.4px;top:280.6px;font-size:14.3px;letter-spacing:1.22px">0<span class="cm">,</span>6700</div>
<div class="t" style="left:1514.4px;top:330.3px;font-size:14.3px;letter-spacing:1.22px">0<span class="cm">,</span>6300</div>
<div class="t" style="left:1514.4px;top:383.3px;font-size:14.3px;letter-spacing:1.22px">0<span class="cm">,</span>5900</div>
<div class="t" style="left:1514.4px;top:440.1px;font-size:14.3px;letter-spacing:1.22px">0<span class="cm">,</span>5500</div>
<div class="t" style="left:1514.4px;top:485.4px;font-size:14.3px;letter-spacing:1.22px">0<span class="cm">,</span>5200</div>
<div class="t" style="left:1514.4px;top:533.4px;font-size:14.3px;letter-spacing:1.22px">0<span class="cm">,</span>4900</div>
<div class="t" style="left:1514.4px;top:584.5px;font-size:14.3px;letter-spacing:1.22px">0<span class="cm">,</span>4600</div>
<div class="t" style="left:1514.4px;top:620.4px;font-size:14.3px;letter-spacing:1.22px">0<span class="cm">,</span>4400</div>
<div class="t" style="left:1514.4px;top:658.0px;font-size:14.3px;letter-spacing:1.22px">0<span class="cm">,</span>4200</div>
<div class="t" style="left:1514.4px;top:738.8px;font-size:14.3px;letter-spacing:1.22px">0<span class="cm">,</span>3800</div>
<div class="t" style="left:1514.4px;top:778.0px;font-size:14.3px;letter-spacing:1.22px">0<span class="cm">,</span>3620</div>
<div class="t" style="left:1434.2px;top:473.8px;font-size:14.3px;letter-spacing:1.22px">(0<span class="cm">,</span>5200)</div>
<div class="t" style="left:1434.2px;top:535.3px;font-size:14.3px;letter-spacing:1.22px">(0<span class="cm">,</span>4814)</div>
<div class="t" style="left:1434.2px;top:574.3px;font-size:14.3px;letter-spacing:1.22px">(0<span class="cm">,</span>4590)</div>
<div class="t" style="left:1434.2px;top:586.3px;font-size:14.3px;letter-spacing:1.22px">(0<span class="cm">,</span>4520)</div>
<div class="t" style="left:1434.2px;top:621.5px;font-size:14.3px;letter-spacing:1.22px">(0<span class="cm">,</span>4328)</div>
<div class="t" style="left:1434.2px;top:657.0px;font-size:14.3px;letter-spacing:1.22px">(0<span class="cm">,</span>4145)</div>
<div class="t" style="left:1434.2px;top:668.7px;font-size:14.3px;letter-spacing:1.22px">(0<span class="cm">,</span>4082)</div>
<div class="t" style="left:1434.2px;top:707.7px;font-size:14.3px;letter-spacing:1.22px">(0<span class="cm">,</span>3892)</div>
<div class="t" style="left:1434.2px;top:739.1px;font-size:14.3px;letter-spacing:1.22px">(0<span class="cm">,</span>3738)</div>
<div style="position:absolute;left:1507.7px;top:36.2px;width:76px;height:31.5px;border:1px solid #f0f0f0;border-radius:6px;background:#fff"></div>
<div class="t" style="left:1518.6px;top:44.9px;font-size:14.1px;letter-spacing:0.1px">USDT</div>
<div style="position:absolute;left:1504.2px;top:695.1px;width:78.1px;height:36.7px;background:#173cb0;border-radius:0 3px 3px 0"></div>
<div class="t" style="left:1514.4px;top:696.5px;font-size:14.3px;letter-spacing:1.22px;color:#fff">0<span class="cm">,</span>4004</div>
<div class="t" style="left:1513.6px;top:714.1px;font-size:14.3px;letter-spacing:1.22px;letter-spacing:0.85px;color:#cfdcff">02:15:41</div>
<div class="t" style="left:-11.2px;width:100px;text-align:center;top:823px;font-size:14.4px;letter-spacing:1.2px;"><span style="margin-right:-1.2px">9</span></div>
<div class="t" style="left:59.0px;width:100px;text-align:center;top:823px;font-size:14.4px;letter-spacing:1.2px;"><span style="margin-right:-1.2px">13</span></div>
<div class="t" style="left:129.3px;width:100px;text-align:center;top:823px;font-size:14.4px;letter-spacing:1.2px;"><span style="margin-right:-1.2px">17</span></div>
<div class="t" style="left:199.6px;width:100px;text-align:center;top:823px;font-size:14.4px;letter-spacing:1.2px;"><span style="margin-right:-1.2px">21</span></div>
<div class="t" style="left:269.9px;width:100px;text-align:center;top:823px;font-size:14.4px;letter-spacing:1.2px;"><span style="margin-right:-1.2px">25</span></div>
<div class="t" style="left:392.9px;width:100px;text-align:center;top:823px;font-size:14.4px;letter-spacing:0.3px;font-weight:bold;-webkit-text-stroke:0;"><span style="margin-right:-0.3px">Kas</span></div>
<div class="t" style="left:463.2px;width:100px;text-align:center;top:823px;font-size:14.4px;letter-spacing:1.2px;"><span style="margin-right:-1.2px">5</span></div>
<div class="t" style="left:533.4px;width:100px;text-align:center;top:823px;font-size:14.4px;letter-spacing:1.2px;"><span style="margin-right:-1.2px">9</span></div>
<div class="t" style="left:603.7px;width:100px;text-align:center;top:823px;font-size:14.4px;letter-spacing:1.2px;"><span style="margin-right:-1.2px">13</span></div>
<div class="t" style="left:674.0px;width:100px;text-align:center;top:823px;font-size:14.4px;letter-spacing:1.2px;"><span style="margin-right:-1.2px">17</span></div>
<div class="t" style="left:744.3px;width:100px;text-align:center;top:823px;font-size:14.4px;letter-spacing:1.2px;"><span style="margin-right:-1.2px">21</span></div>
<div class="t" style="left:814.6px;width:100px;text-align:center;top:823px;font-size:14.4px;letter-spacing:1.2px;"><span style="margin-right:-1.2px">25</span></div>
<div class="t" style="left:920.0px;width:100px;text-align:center;top:823px;font-size:14.4px;letter-spacing:0.3px;font-weight:bold;-webkit-text-stroke:0;"><span style="margin-right:-0.3px">Ara</span></div>
<div class="t" style="left:990.3px;width:100px;text-align:center;top:823px;font-size:14.4px;letter-spacing:1.2px;"><span style="margin-right:-1.2px">5</span></div>
<div class="t" style="left:1060.6px;width:100px;text-align:center;top:823px;font-size:14.4px;letter-spacing:1.2px;"><span style="margin-right:-1.2px">9</span></div>
<div class="t" style="left:1130.8px;width:100px;text-align:center;top:823px;font-size:14.4px;letter-spacing:1.2px;"><span style="margin-right:-1.2px">13</span></div>
<div class="t" style="left:1201.1px;width:100px;text-align:center;top:823px;font-size:14.4px;letter-spacing:1.2px;"><span style="margin-right:-1.2px">17</span></div>
<div class="t" style="left:1271.4px;width:100px;text-align:center;top:823px;font-size:14.4px;letter-spacing:1.2px;"><span style="margin-right:-1.2px">21</span></div>
<div class="t" style="left:1341.7px;width:100px;text-align:center;top:823px;font-size:14.4px;letter-spacing:1.2px;"><span style="margin-right:-1.2px">25</span></div>
<svg width="60" height="30" style="left:0;top:860px" viewBox="0 860 60 30">
<path d="M14.2 871.2H28.3V888.9H21V877.7H14.2Z" fill="#131313"/><circle cx="34.4" cy="874.7" r="3.1" fill="#131313"/><path d="M39.6 871.2H49.3L43.2 888.9H34.1Z" fill="#131313"/></svg>
<div class="t" style="left:57.6px;top:867.6px;font-size:25px;font-weight:bold;letter-spacing:-0.45px;color:#131313;-webkit-text-stroke:0.3px #131313">TradingView</div>
</body></html>
